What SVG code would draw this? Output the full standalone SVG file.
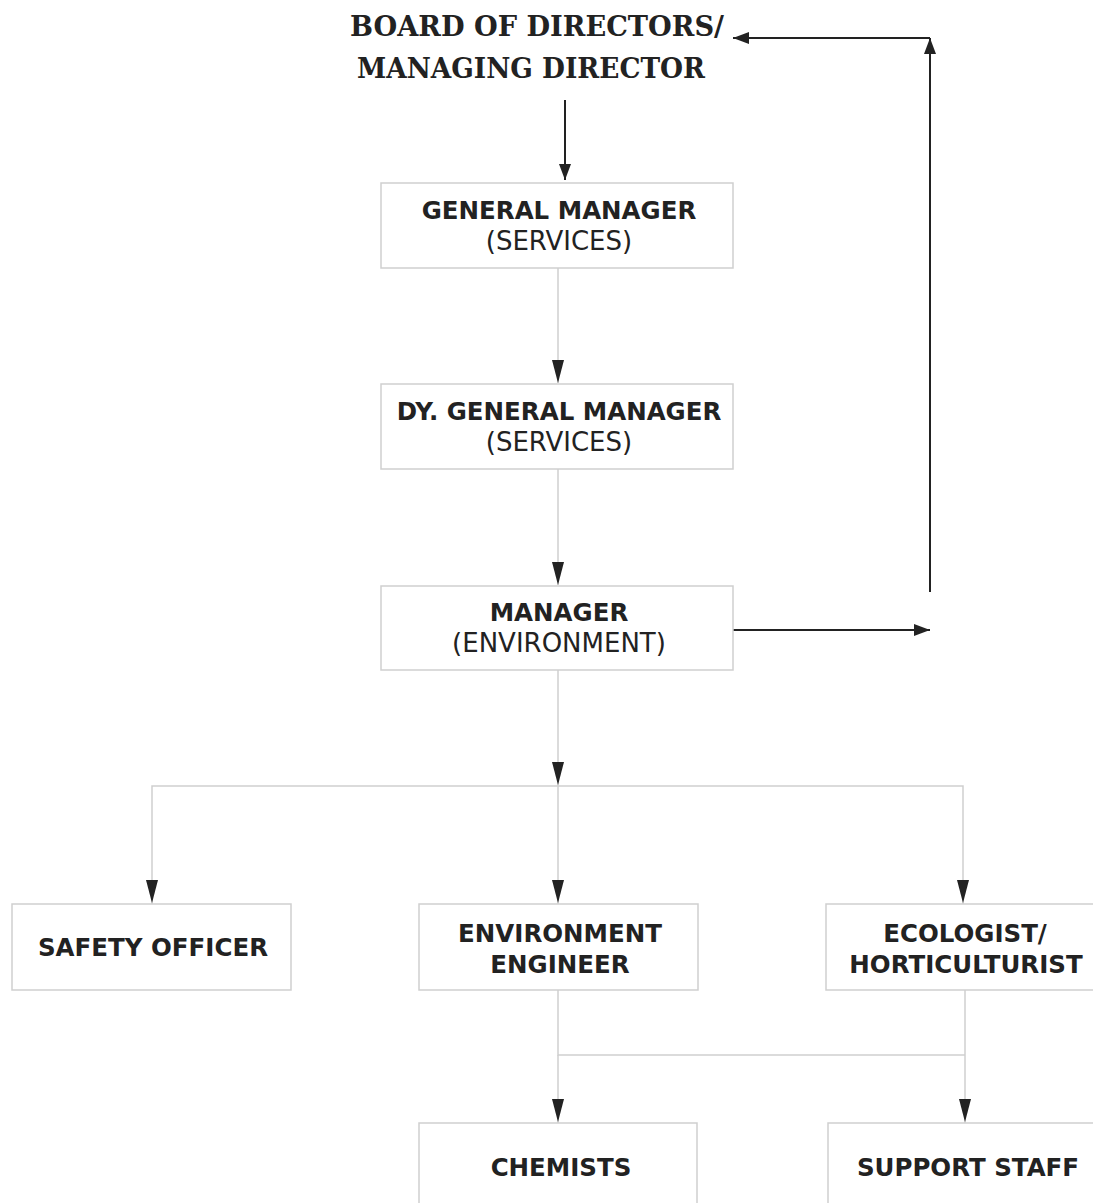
<svg xmlns="http://www.w3.org/2000/svg" width="1093" height="1203" viewBox="0 0 1093 1203">
<style>
.box{fill:#fff;stroke:#cfcfcf;stroke-width:1.5}
.t{font-family:"DejaVu Sans",Verdana,sans-serif;font-size:26px;fill:#222;text-anchor:middle}
.b{font-weight:bold;font-size:24.5px}
.title{font-family:"DejaVu Serif","Liberation Serif",serif;font-weight:bold;font-size:27px;fill:#222;text-anchor:middle}
.g{stroke:#cfcfcf;stroke-width:1.5;fill:none}
.k{stroke:#222;stroke-width:2;fill:none}
</style>
<defs>
<marker id="ak" markerWidth="16" markerHeight="12" refX="16" refY="6" orient="auto" markerUnits="userSpaceOnUse" viewBox="0 0 16 12">
<path d="M0,0 L16,6 L0,12 Z" fill="#222"/>
</marker>
</defs>
<rect width="1093" height="1203" fill="#fff"/>
<g id="connectors">
<line class="k" x1="565" y1="100" x2="565" y2="180" marker-end="url(#ak)"/>
<line class="g" x1="558" y1="268" x2="558" y2="383"/>
<path d="M552,360 L564,360 L558,383 Z" fill="#222"/>
<line class="g" x1="558" y1="469" x2="558" y2="585"/>
<path d="M552,562 L564,562 L558,585 Z" fill="#222"/>
<line class="g" x1="558" y1="670" x2="558" y2="786"/>
<path d="M552,762 L564,762 L558,785 Z" fill="#222"/>
<polyline class="g" points="152,904 152,786 963,786 963,904"/>
<line class="g" x1="558" y1="786" x2="558" y2="904"/>
<path d="M146,880 L158,880 L152,903 Z" fill="#222"/>
<path d="M552,880 L564,880 L558,903 Z" fill="#222"/>
<path d="M957,880 L969,880 L963,903 Z" fill="#222"/>
<polyline class="g" points="558,990 558,1055 965,1055"/>
<line class="g" x1="558" y1="1055" x2="558" y2="1123"/>
<line class="g" x1="965" y1="990" x2="965" y2="1123"/>
<path d="M552,1099 L564,1099 L558,1122 Z" fill="#222"/>
<path d="M959,1099 L971,1099 L965,1122 Z" fill="#222"/>
<line class="k" x1="733" y1="630" x2="930" y2="630" marker-end="url(#ak)"/>
<line class="k" x1="930" y1="592" x2="930" y2="38" marker-end="url(#ak)"/>
<line class="k" x1="930" y1="38" x2="733" y2="38" marker-end="url(#ak)"/>
</g>
<g id="board">
<text class="title" x="537" y="36" textLength="374" lengthAdjust="spacingAndGlyphs">BOARD OF DIRECTORS/</text>
<text class="title" x="531" y="78" textLength="348" lengthAdjust="spacingAndGlyphs">MANAGING DIRECTOR</text>
</g>
<g id="gm">
<rect class="box" x="381" y="183" width="352" height="85"/>
<text class="t b" x="559" y="219">GENERAL MANAGER</text>
<text class="t" x="559" y="250">(SERVICES)</text>
</g>
<g id="dgm">
<rect class="box" x="381" y="384" width="352" height="85"/>
<text class="t b" x="559" y="420">DY. GENERAL MANAGER</text>
<text class="t" x="559" y="451">(SERVICES)</text>
</g>
<g id="manager">
<rect class="box" x="381" y="586" width="352" height="84"/>
<text class="t b" x="559" y="621">MANAGER</text>
<text class="t" x="559" y="652">(ENVIRONMENT)</text>
</g>
<g id="safety">
<rect class="box" x="12" y="904" width="279" height="86"/>
<text class="t b" x="153" y="956">SAFETY OFFICER</text>
</g>
<g id="enveng">
<rect class="box" x="419" y="904" width="279" height="86"/>
<text class="t b" x="560" y="942">ENVIRONMENT</text>
<text class="t b" x="560" y="973">ENGINEER</text>
</g>
<g id="ecologist">
<rect class="box" x="826" y="904" width="280" height="86"/>
<text class="t b" x="965" y="942">ECOLOGIST/</text>
<text class="t b" x="966" y="973">HORTICULTURIST</text>
</g>
<g id="chemists">
<rect class="box" x="419" y="1123" width="278" height="90"/>
<text class="t b" x="561" y="1176">CHEMISTS</text>
</g>
<g id="support">
<rect class="box" x="828" y="1123" width="278" height="90"/>
<text class="t b" x="968" y="1176">SUPPORT STAFF</text>
</g>
</svg>
